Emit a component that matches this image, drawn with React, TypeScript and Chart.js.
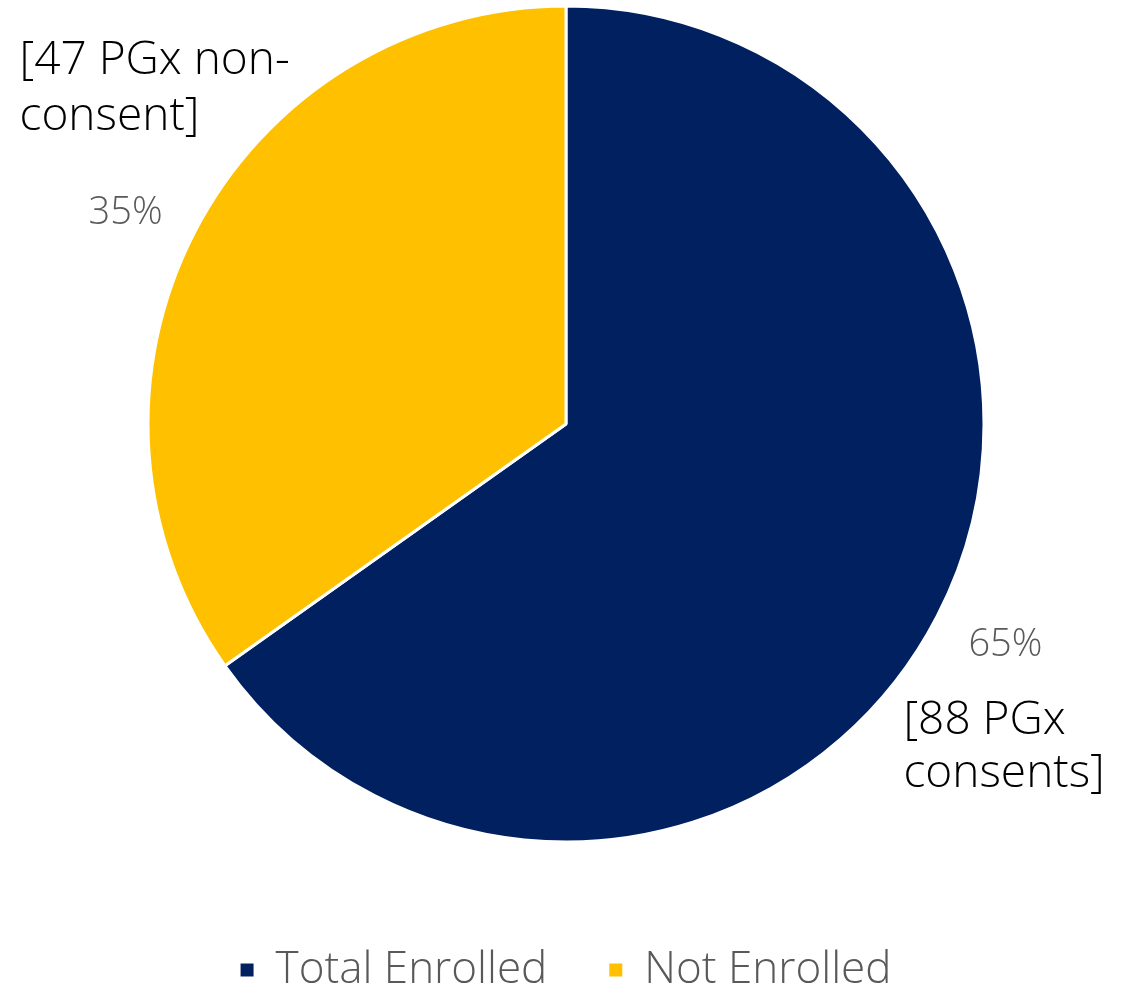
import React, { useEffect, useRef } from 'react';
import { Chart, registerables } from 'chart.js';

Chart.register(...registerables);

const categories = ['Total Enrolled', 'Not Enrolled'];
const values = [88, 47];
const countLabels = [
  ['[88 PGx', 'consents]'],
  ['[47 PGx non-', 'consent]'],
];
const colors = ['#002060', '#FFC000'];

const FONT = '"Open Sans", Lato, sans-serif';

// per-slice label styling (offsets relative to the slice's mid-angle anchor)
const sliceLabelStyle = [
  { dx: 5, dy: -3, textDx: -102, textDy: 88, lineGap: 53 },
  { dx: -6, dy: 14, textDx: -106, textDy: -139, lineGap: 56 },
];

const labelPlugin = {
  id: 'sliceLabels',
  afterDatasetsDraw(chart: any) {
    const ctx = chart.ctx as CanvasRenderingContext2D;
    const meta = chart.getDatasetMeta(0);
    const data = chart.data.datasets[0].data as number[];
    const total = data.reduce((a, b) => a + b, 0);
    meta.data.forEach((arc: any, i: number) => {
      const { x, y, startAngle, endAngle, outerRadius } = arc.getProps(
        ['x', 'y', 'startAngle', 'endAngle', 'outerRadius'],
        true
      );
      const mid = (startAngle + endAngle) / 2;
      const d = outerRadius * 1.17;
      const s = sliceLabelStyle[i];
      const px = x + Math.cos(mid) * d + s.dx;
      const py = y + Math.sin(mid) * d + s.dy;
      ctx.save();
      ctx.font = `300 38px ${FONT}`;
      ctx.fillStyle = '#595959';
      ctx.textAlign = 'center';
      ctx.textBaseline = 'middle';
      ctx.fillText(Math.round((data[i] / total) * 100) + '%', px, py);
      ctx.font = `300 46px ${FONT}`;
      ctx.fillStyle = '#000000';
      ctx.textAlign = 'left';
      ctx.textBaseline = 'alphabetic';
      countLabels[i].forEach((line, j) => {
        ctx.fillText(line, px + s.textDx, py + s.textDy + j * s.lineGap);
      });
      ctx.restore();
    });
  },
};

export default function App() {
  const canvasRef = useRef<HTMLCanvasElement | null>(null);

  useEffect(() => {
    if (!canvasRef.current) return;
    const chart = new Chart(canvasRef.current, {
      type: 'pie',
      data: {
        labels: categories,
        datasets: [
          {
            data: values,
            backgroundColor: colors,
            borderColor: '#ffffff',
            borderWidth: 3,
            radius: 418,
          },
        ],
      },
      options: {
        animation: false,
        responsive: true,
        maintainAspectRatio: false,
        layout: { padding: { left: 3, right: 0, top: 0, bottom: 0 } },
        plugins: {
          tooltip: { enabled: false },
          legend: {
            position: 'bottom',
            title: {
              display: true,
              text: '',
              padding: { top: 28, bottom: 0 },
              font: { size: 10, lineHeight: 1 },
            },
            labels: {
              boxWidth: 13,
              boxHeight: 13,
              color: '#595959',
              padding: 62,
              font: { size: 44, family: FONT, weight: 300 },
              generateLabels: (chart: any) =>
                Chart.overrides.pie.plugins.legend.labels
                  .generateLabels(chart)
                  .map((item: any) => ({ ...item, lineWidth: 0, strokeStyle: item.fillStyle })),
            },
          },
        },
      },
      plugins: [labelPlugin],
    });
    return () => chart.destroy();
  }, []);

  return (
    <div style={{ position: 'absolute', left: 0, top: 0, width: 1129, height: 1002, background: '#fff' }}>
      <canvas ref={canvasRef} />
    </div>
  );
}
